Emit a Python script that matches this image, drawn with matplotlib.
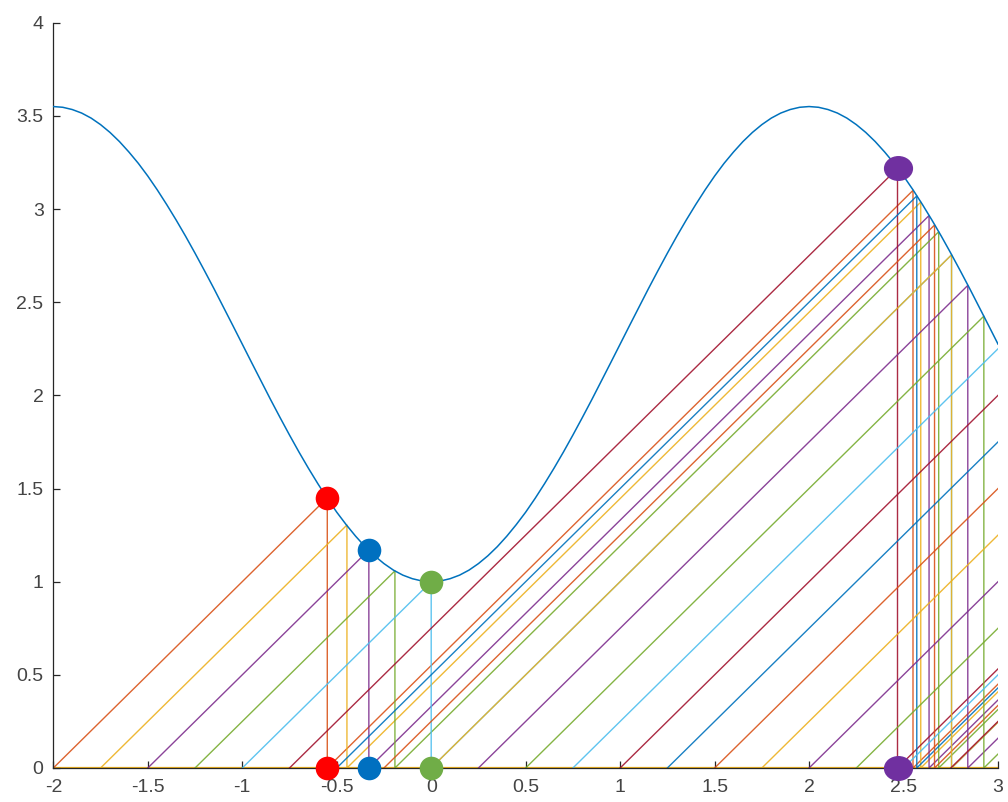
import numpy as np
import matplotlib
matplotlib.use("Agg")
import matplotlib.pyplot as plt
from matplotlib.path import Path
from matplotlib.transforms import Affine2D

# curve f(x)
curve_x = [-2.0, -1.95, -1.9, -1.85, -1.8, -1.75, -1.7, -1.65, -1.6, -1.55,
           -1.5, -1.45, -1.4, -1.35, -1.3, -1.25, -1.2, -1.15, -1.1, -1.05,
           -1.0, -0.95, -0.9, -0.85, -0.8, -0.75, -0.7, -0.65, -0.6, -0.55,
           -0.5, -0.45, -0.4, -0.35, -0.3, -0.25, -0.2, -0.15, -0.1, -0.05,
           0.0, 0.05, 0.1, 0.15, 0.2, 0.25, 0.3, 0.35, 0.4, 0.45,
           0.5, 0.55, 0.6, 0.65, 0.7, 0.75, 0.8, 0.85, 0.9, 0.95,
           1.0, 1.05, 1.1, 1.15, 1.2, 1.25, 1.3, 1.35, 1.4, 1.45,
           1.5, 1.55, 1.6, 1.65, 1.7, 1.75, 1.8, 1.85, 1.9, 1.95,
           2.0, 2.05, 2.1, 2.15, 2.2, 2.25, 2.3, 2.35, 2.4, 2.45,
           2.5, 2.55, 2.6, 2.65, 2.7, 2.75, 2.8, 2.85, 2.9, 2.95, 3.0]
curve_y = [3.550, 3.546, 3.534, 3.515, 3.488, 3.453, 3.411, 3.362, 3.306, 3.245,
           3.177, 3.103, 3.024, 2.941, 2.854, 2.763, 2.669, 2.573, 2.474, 2.375,
           2.275, 2.175, 2.076, 1.977, 1.881, 1.787, 1.696, 1.609, 1.526, 1.447,
           1.373, 1.306, 1.244, 1.188, 1.139, 1.097, 1.062, 1.035, 1.016, 1.004,
           1.000, 1.004, 1.016, 1.035, 1.062, 1.097, 1.139, 1.188, 1.244, 1.306,
           1.373, 1.447, 1.526, 1.609, 1.696, 1.787, 1.881, 1.977, 2.076, 2.175,
           2.275, 2.375, 2.474, 2.573, 2.669, 2.763, 2.854, 2.941, 3.024, 3.103,
           3.177, 3.245, 3.306, 3.362, 3.411, 3.453, 3.488, 3.515, 3.534, 3.546,
           3.550, 3.546, 3.534, 3.515, 3.488, 3.453, 3.411, 3.362, 3.306, 3.245,
           3.177, 3.103, 3.024, 2.941, 2.854, 2.763, 2.669, 2.573, 2.474, 2.375, 2.275]

# start points of each path on the x axis
starts = [-2.0, -1.75, -1.5, -1.25, -1.0, -0.75, -0.5, -0.25, 0.0, 0.25,
          0.5, 0.75, 1.0, 1.25, 1.5, 1.75, 2.0, 2.25, 2.5, 2.75]
# where each path hits the curve (x and height)
hit_x = [[-0.55, 2.55], [-0.446, 2.591], [-0.33, 2.635], [-0.192, 2.686],
         [0.0, 2.754], [2.468], [2.57], [2.664], [2.754], [2.84], [2.925],
         [], [], [], [], [], [], [], [], []]
hit_y = [[1.45, 3.10], [1.304, 3.037], [1.17, 2.965], [1.058, 2.878],
         [1.0, 2.754], [3.218], [3.07], [2.914], [2.754], [2.59], [2.425],
         [], [], [], [], [], [], [], [], []]
# height where the last diagonal leaves the plot at x = 3
exit_y = [0.45, 0.409, 0.365, 0.314, 0.246, 0.532, 0.43, 0.336, 0.246, 0.16,
          0.075, 2.25, 2.0, 1.75, 1.5, 1.25, 1.0, 0.75, 0.5, 0.25]

# highlighted points
mark_x = [-0.55, -0.33, 0.0, 2.468]
mark_y = [1.45, 1.17, 1.0, 3.218]
mark_colors = ["#FF0000", "#0070C0", "#70AD47", "#7030A0"]

colors = ["#0072BD", "#D95319", "#EDB120", "#7E2F8E", "#77AC30", "#4DBEEE", "#A2142F"]

plt.rcParams["font.family"] = ["Liberation Sans", "DejaVu Sans"]
plt.rcParams["axes.unicode_minus"] = False

fig = plt.figure(figsize=(10.08, 8.02), dpi=100)
ax = fig.add_axes([0.0529, 0.0424, 0.9372, 0.9293])

ax.plot(curve_x, curve_y, color=colors[0], lw=1.1, zorder=3)

ax.plot([-2.0, 3.0], [0, 0], color="#EDB120", lw=1.6, zorder=1.5)

for i, x0 in enumerate(starts):
    xs = [x0]
    ys = [0]
    for hx, hy in zip(hit_x[i], hit_y[i]):
        xs += [hx, hx]
        ys += [hy, 0]
    xs.append(3.0)
    ys.append(exit_y[i])
    ax.plot(xs, ys, color=colors[(i + 1) % 7], lw=1.0, alpha=0.9, zorder=2)

ellipse = Path.unit_circle().transformed(Affine2D().scale(1.18, 1.0))
for x, y, c in zip(mark_x, mark_y, mark_colors):
    if c == "#7030A0":
        ax.plot([x, x], [y, 0], ls="none", marker=ellipse, ms=20, color=c,
                clip_on=False, zorder=5)
    else:
        ax.plot([x, x], [y, 0], ls="none", marker="o", ms=17, color=c,
                mec="none", clip_on=False, zorder=5)

ax.set_xlim(-2, 3)
ax.set_ylim(0, 4)
ax.set_xticks(np.arange(-2, 3.01, 0.5))
ax.set_yticks(np.arange(0, 4.01, 0.5))
ax.set_xticklabels(["-2", "-1.5", "-1", "-0.5", "0", "0.5", "1", "1.5", "2", "2.5", "3"])
ax.set_yticklabels(["0", "0.5", "1", "1.5", "2", "2.5", "3", "3.5", "4"])

for s in ["top", "right"]:
    ax.spines[s].set_visible(False)
for s in ["left", "bottom"]:
    ax.spines[s].set_color("#262626")
    ax.spines[s].set_linewidth(0.9)
    ax.spines[s].set_zorder(2.5)

ax.tick_params(direction="in", length=5, width=0.9, color="#262626",
               labelsize=14, labelcolor="#444444")
ax.tick_params(axis="x", pad=8)
ax.tick_params(axis="y", pad=7)

fig.savefig("out.png", dpi=100)
